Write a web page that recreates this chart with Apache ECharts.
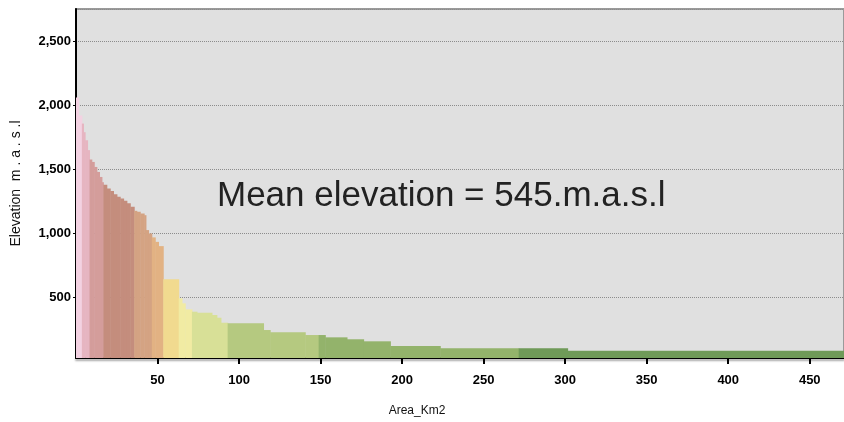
<!DOCTYPE html>
<html>
<head>
<meta charset="utf-8">
<script src="https://cdn.jsdelivr.net/npm/echarts@6/dist/echarts.min.js"></script>
<style>
  html, body { margin: 0; padding: 0; background: #fff; }
  #main { width: 844px; height: 422px; }
</style>
</head>
<body>
<div id="main"></div>
<script>
// step edges along the area axis (km2), one more than the heights
var stepEdges = [0, 1.6, 3.6, 4.6, 5.6, 7.1, 8.3, 9.7, 11.2, 12.8, 14.4, 15.9, 16.8, 18.9,
  21.0, 23.0, 25.1, 27.1, 29.2, 31.2, 33.3, 35.7, 37.3, 39.4, 41.8, 42.9, 44.5, 46.5,
  48.6, 50.6, 53.5, 63.0, 65.0, 67.0, 71.1, 74.2, 83.4, 86.4, 88.9, 93.0, 115.0, 119.1,
  140.6, 148.8, 152.9, 166.2, 176.4, 192.8, 223.4, 271.5, 301.5, 471];
// elevation of each step (m.a.s.l)
var stepElev = [2060, 1920, 1857, 1790, 1727, 1650, 1577, 1558, 1519, 1480, 1441, 1400, 1380,
  1351, 1332, 1307, 1287, 1274, 1255, 1236, 1208, 1177, 1169, 1156, 1143, 1027, 1001,
  970, 935, 902, 643, 495, 456, 409, 391, 383, 365, 344, 305, 300, 248, 230,
  209, 209, 191, 176, 160, 124, 106, 106, 87];
// colour bands: each band starts at this area value
var bandStart = [0, 3.6, 8.3, 16.8, 35.7, 46.5, 53.5, 63.0, 71.1, 93.0, 148.8, 271.5];
var bandColors = ['#f3d2e2', '#e6b5c1', '#d49d9b', '#c48d7d', '#d4a383', '#e2b283',
  '#f1da8f', '#f1eba3', '#d8e097', '#b5c980', '#93b36b', '#6f9a58'];

var yTop = 2750;
var yBottom = 30;

function bandColor(x) {
  var c = bandColors[0];
  for (var i = 0; i < bandStart.length; i++) {
    if (x >= bandStart[i]) c = bandColors[i];
  }
  return c;
}

var steps = [];
for (var i = 0; i < stepElev.length; i++) {
  steps.push([stepEdges[i], stepEdges[i + 1], stepElev[i]]);
}

var labelFont = 'Liberation Sans, Arial, sans-serif';

var myChart = echarts.init(document.getElementById('main'));
var option = {
  animation: false,
  backgroundColor: '#fff',
  grid: {
    left: 76, right: 0, top: 9, bottom: 64,
    containLabel: false,
    outerBoundsMode: 'none',
    show: true,
    backgroundColor: '#e0e0e0',
    borderColor: '#9a9a9a',
    borderWidth: 2
  },
  xAxis: {
    type: 'value',
    min: 0,
    max: 471,
    interval: 50,
    name: 'Area_Km2',
    nameLocation: 'middle',
    nameGap: 47,
    nameTextStyle: {
      fontFamily: labelFont,
      fontSize: 12,
      color: '#111',
      padding: [0, 86, 0, 0]
    },
    axisLine: {
      lineStyle: { color: '#000', width: 2, shadowColor: 'rgba(0,0,0,0.35)', shadowOffsetY: 2, shadowBlur: 2 }
    },
    axisTick: { show: true, length: 6, lineStyle: { color: '#000', width: 2 } },
    axisLabel: {
      showMinLabel: false,
      showMaxLabel: false,
      margin: 16,
      color: '#000',
      fontFamily: labelFont,
      fontWeight: 'bold',
      fontSize: 13
    },
    splitLine: { show: false }
  },
  yAxis: {
    type: 'value',
    min: yBottom,
    max: yTop,
    splitNumber: 5,
    name: 'Elevation  m . a . s .l',
    nameLocation: 'middle',
    nameGap: 53,
    nameTextStyle: {
      fontFamily: labelFont,
      fontSize: 14,
      color: '#111'
    },
    axisLine: { show: true, lineStyle: { color: '#000', width: 2 } },
    axisTick: { show: true, length: 3, lineStyle: { color: '#000' } },
    axisLabel: {
      showMinLabel: false,
      showMaxLabel: false,
      margin: 5,
      color: '#000',
      fontFamily: labelFont,
      fontWeight: 'bold',
      fontSize: 13,
      formatter: function (v) { return v.toLocaleString('en-US'); }
    },
    splitLine: { show: true, lineStyle: { color: '#8c8c8c', type: 'dotted', width: 1 } }
  },
  series: [
    {
      type: 'custom',
      clip: true,
      renderItem: function (params, api) {
        var x0 = api.value(0), x1 = api.value(1), h = api.value(2);
        var p0 = api.coord([x0, h]);
        var p1 = api.coord([x1, yBottom]);
        return {
          type: 'rect',
          shape: { x: p0[0], y: p0[1], width: p1[0] - p0[0] + 0.5, height: p1[1] - p0[1] },
          style: { fill: bandColor((x0 + x1) / 2) }
        };
      },
      encode: { x: [0, 1], y: 2 },
      data: steps
    }
  ],
  graphic: [
    {
      type: 'text',
      left: 217,
      top: 179,
      style: {
        text: 'Mean elevation = 545.m.a.s.l',
        fontFamily: labelFont,
        fontSize: 35,
        fill: '#222'
      }
    }
  ]
};
myChart.setOption(option);
</script>
</body>
</html>
